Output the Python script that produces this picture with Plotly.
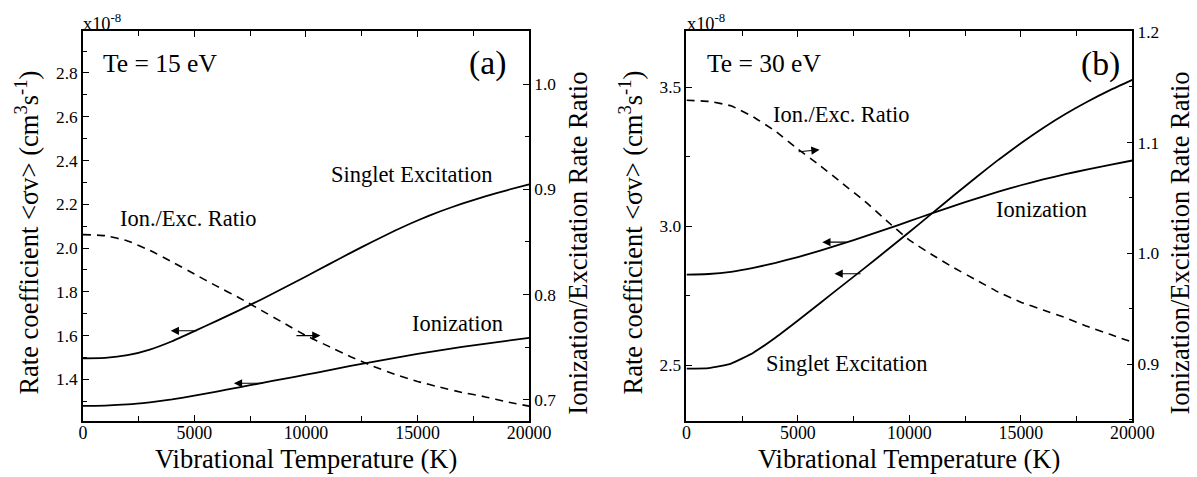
import plotly.graph_objects as go

# ---------------- data ----------------
T_vib = [0, 1000, 2000, 3000, 4000, 5000, 6000, 7000, 8000, 9000, 10000,
         11000, 12000, 13000, 14000, 15000, 16000, 17000, 18000, 19000, 20000]

# panel (a): Te = 15 eV   (rate coefficients in units of 1e-8 cm^3/s)
a_singlet = [1.496, 1.498, 1.510, 1.536, 1.574, 1.620, 1.667, 1.715, 1.765, 1.817, 1.870,
             1.924, 1.978, 2.030, 2.080, 2.126, 2.167, 2.203, 2.235, 2.264, 2.291]
a_ionization = [1.279, 1.280, 1.285, 1.295, 1.308, 1.325, 1.344, 1.363, 1.383, 1.402, 1.421,
                1.441, 1.461, 1.480, 1.498, 1.516, 1.532, 1.548, 1.562, 1.576, 1.589]
a_ratio = [0.857, 0.856, 0.851, 0.842, 0.831, 0.8195, 0.808, 0.797, 0.785, 0.773, 0.761,
           0.751, 0.741, 0.732, 0.724, 0.7175, 0.712, 0.707, 0.703, 0.698, 0.694]

# panel (b): Te = 30 eV
b_singlet = [2.488, 2.490, 2.506, 2.545, 2.600, 2.661, 2.724, 2.787, 2.850, 2.914, 2.979,
             3.045, 3.111, 3.176, 3.239, 3.298, 3.353, 3.403, 3.448, 3.489, 3.526]
b_ionization = [2.826, 2.828, 2.836, 2.850, 2.868, 2.889, 2.912, 2.937, 2.963, 2.990, 3.018,
                3.046, 3.073, 3.099, 3.124, 3.147, 3.168, 3.187, 3.204, 3.220, 3.236]
b_ratio = [1.138, 1.137, 1.133, 1.123, 1.110, 1.094, 1.079, 1.063, 1.047, 1.029, 1.012,
           0.999, 0.987, 0.976, 0.965, 0.956, 0.949, 0.942, 0.934, 0.927, 0.920]

x_ticks = [0, 5000, 10000, 15000, 20000]
x_ticktext = ["0", "5000", "10000", "15000", "20000"]

# ---------------- figure ----------------
W, H = 1197, 477
FONT = "Liberation Serif, 'Times New Roman', Times, serif"

# the photographed page comes out slightly scaled/offset; place things so that
# they land on the reference's pixel positions
S, OX, OY = 0.98, 3.0, 7.6


def px(x):
    return ((x - OX) / S) / W


def py(y):
    return 1 - ((y - OY) / S) / H


def fs(size):
    return size / S


fig = go.Figure()
line_solid = dict(color="black", width=1.8, shape="spline", smoothing=0.4)
line_dash = dict(color="black", width=1.6, dash="8px,6px", shape="spline", smoothing=0.4)

fig.add_trace(go.Scatter(x=T_vib, y=a_singlet, mode="lines", line=line_solid, xaxis="x", yaxis="y"))
fig.add_trace(go.Scatter(x=T_vib, y=a_ionization, mode="lines", line=line_solid, xaxis="x", yaxis="y"))
fig.add_trace(go.Scatter(x=T_vib, y=a_ratio, mode="lines", line=line_dash, xaxis="x", yaxis="y2"))

fig.add_trace(go.Scatter(x=T_vib, y=b_singlet, mode="lines", line=line_solid, xaxis="x2", yaxis="y3"))
fig.add_trace(go.Scatter(x=T_vib, y=b_ionization, mode="lines", line=line_solid, xaxis="x2", yaxis="y3"))
fig.add_trace(go.Scatter(x=T_vib, y=b_ratio, mode="lines", line=line_dash, xaxis="x2", yaxis="y4"))

ydom = [py(419), py(30)]
common = dict(showline=True, linecolor="black", linewidth=1.5, ticks="inside", ticklen=6,
              tickwidth=1.3, tickcolor="black", showgrid=False, zeroline=False)


def xax(dom, anchor):
    return dict(domain=dom, anchor=anchor, range=[0, 20000], tickvals=x_ticks,
                ticktext=x_ticktext, mirror="ticks", ticklabelstandoff=-5,
                tickfont=dict(family=FONT, size=fs(17.5), color="black"),
                minor=dict(dtick=2500, tick0=0, ticks="inside", ticklen=5, tickwidth=1.2,
                           tickcolor="black"),
                **common)


def yax(rng, dtick, mdtick, anchor, side="left", overlaying=None):
    d = dict(domain=ydom, anchor=anchor, range=rng, dtick=dtick, tick0=0, tickformat=".1f",
             side=side, tickfont=dict(family=FONT, size=fs(17), color="black"),
             minor=dict(dtick=mdtick, tick0=0, ticks="inside", ticklen=4, tickwidth=1.2,
                        tickcolor="black"),
             **common)
    if overlaying:
        d["overlaying"] = overlaying
    return d


fig.update_layout(
    width=W, height=H,
    margin=dict(l=0, r=0, t=0, b=0),
    paper_bgcolor="white", plot_bgcolor="white",
    showlegend=False,
    font=dict(family=FONT, color="black"),
    xaxis=xax([px(82), px(529)], "y"),
    yaxis=yax([1.21, 2.99], 0.2, 0.1, "x"),
    yaxis2=yax([0.68, 1.05], 0.1, 0.05, "x", side="right", overlaying="y"),
    xaxis2=xax([px(686.7), px(1133.3)], "y3"),
    yaxis3=yax([2.30, 3.70], 0.5, 0.25, "x2"),
    yaxis4=yax([0.849, 1.2001], 0.1, 0.05, "x2", side="right", overlaying="y3"),
)

ann = []


def text(t, x, y, size, xanchor="center", angle=0):
    ann.append(dict(text=t, x=px(x), y=py(y), xref="paper", yref="paper", showarrow=False,
                    xanchor=xanchor, yanchor="middle", textangle=angle,
                    font=dict(family=FONT, size=fs(size), color="black")))


def arrow(x, y, xref, yref, ax, ay=0):
    ann.append(dict(text="", x=x, y=y, xref=xref, yref=yref, ax=ax / S, ay=ay / S,
                    showarrow=True, arrowhead=2, arrowsize=1.5, arrowwidth=1.1,
                    arrowcolor="black", standoff=0))


# panel (a)
text("Te = 15 eV", 100, 62, 25, "left")
text("(a)", 487.5, 62, 33)
text("Singlet Excitation", 411.7, 173, 22)
text("Ionization", 457.5, 321.7, 22)
text("Ion./Exc. Ratio", 187.5, 216.7, 22)
text("x10<sup>-8</sup>", 80, 21, 18, "left")
text("Rate coefficient &lt;σv&gt; (cm<sup>3</sup>s<sup>-1</sup>)", 26, 231, 26, angle=-90)
text("Ionization/Excitation Rate Ratio", 578, 241, 26, angle=-90)
text("Vibrational Temperature (K)", 305.5, 457, 26)
arrow(3937, 1.6216, "x", "y", 27)
arrow(6770, 1.3817, "x", "y", 30)
arrow(10649, 0.761, "x", "y2", -25)

# panel (b)
text("Te = 30 eV", 705, 62, 25, "left")
text("(b)", 1101, 63, 33)
text("Ion./Exc. Ratio", 841, 113, 22)
text("Ionization", 1042.5, 208.3, 22)
text("Singlet Excitation", 846.8, 361.7, 22)
text("x10<sup>-8</sup>", 685, 21, 18, "left")
text("Rate coefficient &lt;σv&gt; (cm<sup>3</sup>s<sup>-1</sup>)", 631, 231, 26, angle=-90)
text("Ionization/Excitation Rate Ratio", 1181, 241, 26, angle=-90)
text("Vibrational Temperature (K)", 910, 457, 26)
arrow(5969, 1.0934, "x2", "y4", -22, 2)
arrow(6090, 2.9425, "x2", "y3", 25)
arrow(6640, 2.829, "x2", "y3", 27)

fig.update_layout(annotations=ann)

css_fix = (
    "var s=document.createElement('style');"
    "s.textContent='html,body{margin:0!important;padding:0!important;overflow:hidden!important;"
    "width:1197px;height:477px;}';"
    "document.head.appendChild(s);"
)
fig.write_html("out.html", config={"displayModeBar": False}, post_script=css_fix)
